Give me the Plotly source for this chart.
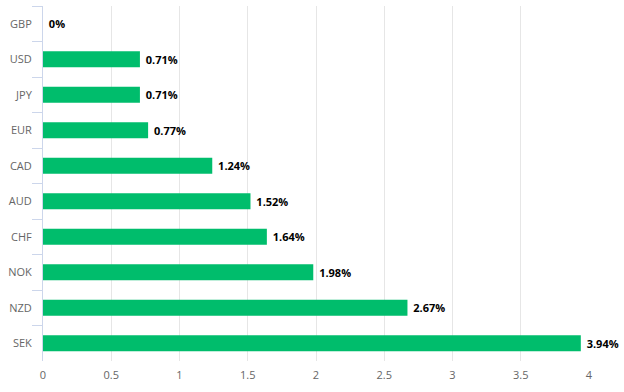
import plotly.graph_objects as go

currencies = ["GBP", "USD", "JPY", "EUR", "CAD", "AUD", "CHF", "NOK", "NZD", "SEK"]
values = [0, 0.71, 0.71, 0.77, 1.24, 1.52, 1.64, 1.98, 2.67, 3.94]
labels = [f"{v:g}%" for v in values]
x_ticks = [0, 0.5, 1, 1.5, 2, 2.5, 3, 3.5, 4]

fig = go.Figure(go.Bar(
    x=values, y=currencies, orientation="h",
    marker=dict(color="#00bd6c", line=dict(width=0)),
    text=[" " + t for t in labels], textposition="outside",
    textfont=dict(family="Open Sans", size=11, color="#000000", weight="bold"),
    cliponaxis=False,
))
fig.update_layout(
    width=624, height=392,
    margin=dict(l=43, r=35, t=6, b=31),
    plot_bgcolor="white", paper_bgcolor="white",
    bargap=0.55, showlegend=False,
    uniformtext=dict(mode=False),
    font=dict(family="Open Sans", size=11, color="#666666"),
)
fig.update_xaxes(range=[0, 4], tickvals=x_ticks, ticktext=[f"{t:g}" for t in x_ticks],
                 showgrid=True, gridcolor="#e6e6e6", gridwidth=1, automargin=False,
                 zeroline=False, showline=False, ticks="", ticklabelstandoff=6,
                 tickfont=dict(size=11, color="#666666"))
fig.update_yaxes(autorange="reversed", categoryorder="array", categoryarray=currencies,
                 showline=True, linecolor="#ccd6eb", linewidth=1, automargin=False,
                 ticks="outside", tickson="boundaries", ticklen=10, tickcolor="#ccd6eb",
                 ticklabelstandoff=8,
                 showgrid=False, tickfont=dict(size=11, color="#666666"))
fig.write_html("out.html", config={"displayModeBar": False},
               post_script="document.body.style.margin='0';document.body.style.overflow='hidden';")
